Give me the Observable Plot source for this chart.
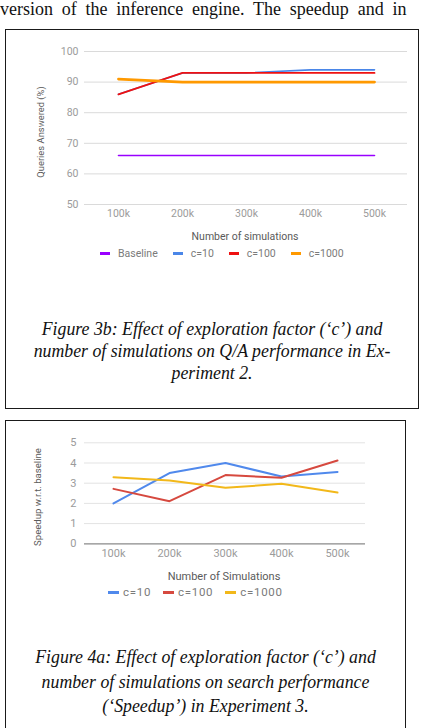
<!DOCTYPE html>
<html>
<head>
<meta charset="utf-8">
<script src="https://cdn.jsdelivr.net/npm/d3@7"></script>
<script src="https://cdn.jsdelivr.net/npm/@observablehq/plot@0.6"></script>
<style>
  body { margin: 0; background: #fff; }
  #page { position: relative; width: 422px; height: 728px; overflow: hidden; background: #fff; }
  .box { position: absolute; border: 1.6px solid #1a1a1a; box-sizing: border-box; }
  .body-text { position: absolute; left: 0; top: 0; font-family: "Liberation Serif", serif; font-size: 18px;
               line-height: 19px; white-space: nowrap; color: #111; word-spacing: 4.3px; }
  .caption { position: absolute; font-family: "Liberation Serif", serif; font-style: italic; font-size: 17.8px;
             color: #111; text-align: center; white-space: nowrap; }
  .title { position: absolute; font-family: Roboto, sans-serif; color: #5a5a5a; white-space: nowrap;
           transform: translate(-50%, -50%); }
  .title.vertical { transform: translate(-50%, -50%) rotate(-90deg); }
  .legend { position: absolute; display: flex; align-items: center; font-family: Roboto, sans-serif;
            color: #7a7a7a; white-space: nowrap; }
  .legend .item { display: flex; align-items: center; }
  .legend .swatch { display: inline-block; height: 3px; }
  .chart { position: absolute; left: 0; }
</style>
</head>
<body>
<div id="page">
  <div class="body-text">version of the inference engine. The speedup and in</div>

  <div class="box" style="left:5px; top:29px; width:414px; height:380px;"></div>
  <div class="box" style="left:5px; top:420px; width:401px; height:330px;"></div>

  <div id="chart1" class="chart" style="top:30px;"></div>
  <div class="title vertical" style="left:40px; top:132px; font-size:9.4px;">Queries Answered (%)</div>
  <div class="title" style="left:245px; top:236px; font-size:10.5px;">Number of simulations</div>
  <div id="legend1" class="legend" style="left:100px; top:247px; height:12px; font-size:10.5px;"></div>
  <div class="caption" style="left:5px; width:414px; top:318px; line-height:22px;">
    Figure 3b: Effect of exploration factor (‘c’) and<br>number of simulations on Q/A performance in Ex-<br>periment 2.
  </div>

  <div id="chart2" class="chart" style="top:421px;"></div>
  <div class="title vertical" style="left:37px; top:497px; font-size:9.6px;">Speedup w.r.t. baseline</div>
  <div class="title" style="left:224px; top:576px; font-size:11px;">Number of Simulations</div>
  <div id="legend2" class="legend" style="left:108px; top:586px; height:12px; font-size:11.5px; letter-spacing:0.7px;"></div>
  <div class="caption" style="left:5px; width:401px; top:645px; line-height:24.5px;">
    Figure 4a: Effect of exploration factor (‘c’) and<br>number of simulations on search performance<br>(‘Speedup’) in Experiment 3.
  </div>
</div>

<script>
// Number of simulations (shared x categories)
const simLabels = ["100k", "200k", "300k", "400k", "500k"];

// Figure 3b: queries answered (%)
const qaSeries = ["Baseline", "c=10", "c=100", "c=1000"];
const qaColors = ["#9900ff", "#4a86e8", "#ee1111", "#ff9900"];
const qaBaseline = [66, 66, 66, 66, 66];
const qaC10 = [86, 93, 93, 94, 94];
const qaC100 = [86, 93, 93, 93, 93];
const qaC1000 = [91, 90, 90, 90, 90];
const qaTicks = [50, 60, 70, 80, 90, 100];

// Figure 4a: speedup w.r.t. baseline
const spSeries = ["c=10", "c=100", "c=1000"];
const spColors = ["#5089ec", "#d6493f", "#f2b81a"];
const spC10 = [2.0, 3.5, 4.0, 3.33, 3.56];
const spC100 = [2.72, 2.11, 3.4, 3.27, 4.12];
const spC1000 = [3.3, 3.13, 2.77, 2.97, 2.54];
const spTicks = [0, 1, 2, 3, 4, 5];

const rows = (values) => simLabels.map((x, i) => ({x, y: values[i]}));

const qaLines = [qaBaseline, qaC10, qaC100, qaC1000];
const qaWidths = [1.6, 1.6, 1.8, 2.8];
const spLines = [spC10, spC100, spC1000];

const chart1 = Plot.plot({
  width: 422, height: 200,
  marginLeft: 84, marginRight: 15, marginTop: 21, marginBottom: 26,
  style: {fontFamily: "Roboto, sans-serif", fontSize: "10.5px", color: "#9b9b9b", background: "transparent"},
  x: {type: "point", domain: simLabels, padding: 0.5, axis: null},
  y: {domain: [50, 100], axis: null},
  marks: [
    Plot.gridY(qaTicks, {stroke: "#dadada", strokeOpacity: 1}),
    Plot.axisY(qaTicks, {tickSize: 0, tickPadding: 6, label: null}),
    Plot.axisX(simLabels, {tickSize: 0, tickPadding: 5, label: null}),
    ...qaLines.map((v, k) => Plot.line(rows(v), {x: "x", y: "y", stroke: qaColors[k], strokeWidth: qaWidths[k]}))
  ]
});
document.getElementById("chart1").appendChild(chart1);

const chart2 = Plot.plot({
  width: 422, height: 150,
  marginLeft: 84, marginRight: 57, marginTop: 21.3, marginBottom: 27.7,
  style: {fontFamily: "Roboto, sans-serif", fontSize: "11px", color: "#9b9b9b", background: "transparent"},
  x: {type: "point", domain: simLabels, padding: 0.5, axis: null},
  y: {domain: [0, 5], axis: null},
  marks: [
    Plot.gridY(spTicks.filter(t => t > 0), {stroke: "#e3e3e3", strokeOpacity: 1}),
    Plot.ruleY([0], {stroke: "#8a8a8a", strokeWidth: 1.2}),
    Plot.axisY(spTicks, {tickSize: 0, tickPadding: 8, label: null}),
    Plot.axisX(simLabels, {tickSize: 0, tickPadding: 5, label: null}),
    ...spLines.map((v, k) => Plot.line(rows(v), {x: "x", y: "y", stroke: spColors[k], strokeWidth: 2}))
  ]
});
document.getElementById("chart2").appendChild(chart2);

// Legends
function legend(id, names, colors, swatchW, gap, spacing) {
  const el = document.getElementById(id);
  names.forEach((name, i) => {
    const item = document.createElement("span");
    item.className = "item";
    item.style.marginRight = spacing + "px";
    const sw = document.createElement("span");
    sw.className = "swatch";
    sw.style.width = swatchW + "px";
    sw.style.background = colors[i];
    sw.style.marginRight = gap + "px";
    const label = document.createElement("span");
    label.textContent = name;
    item.append(sw, label);
    el.appendChild(item);
  });
}
legend("legend1", qaSeries, qaColors, 10, 8, 15);
legend("legend2", spSeries, spColors, 11, 4, 12);
</script>
</body>
</html>
